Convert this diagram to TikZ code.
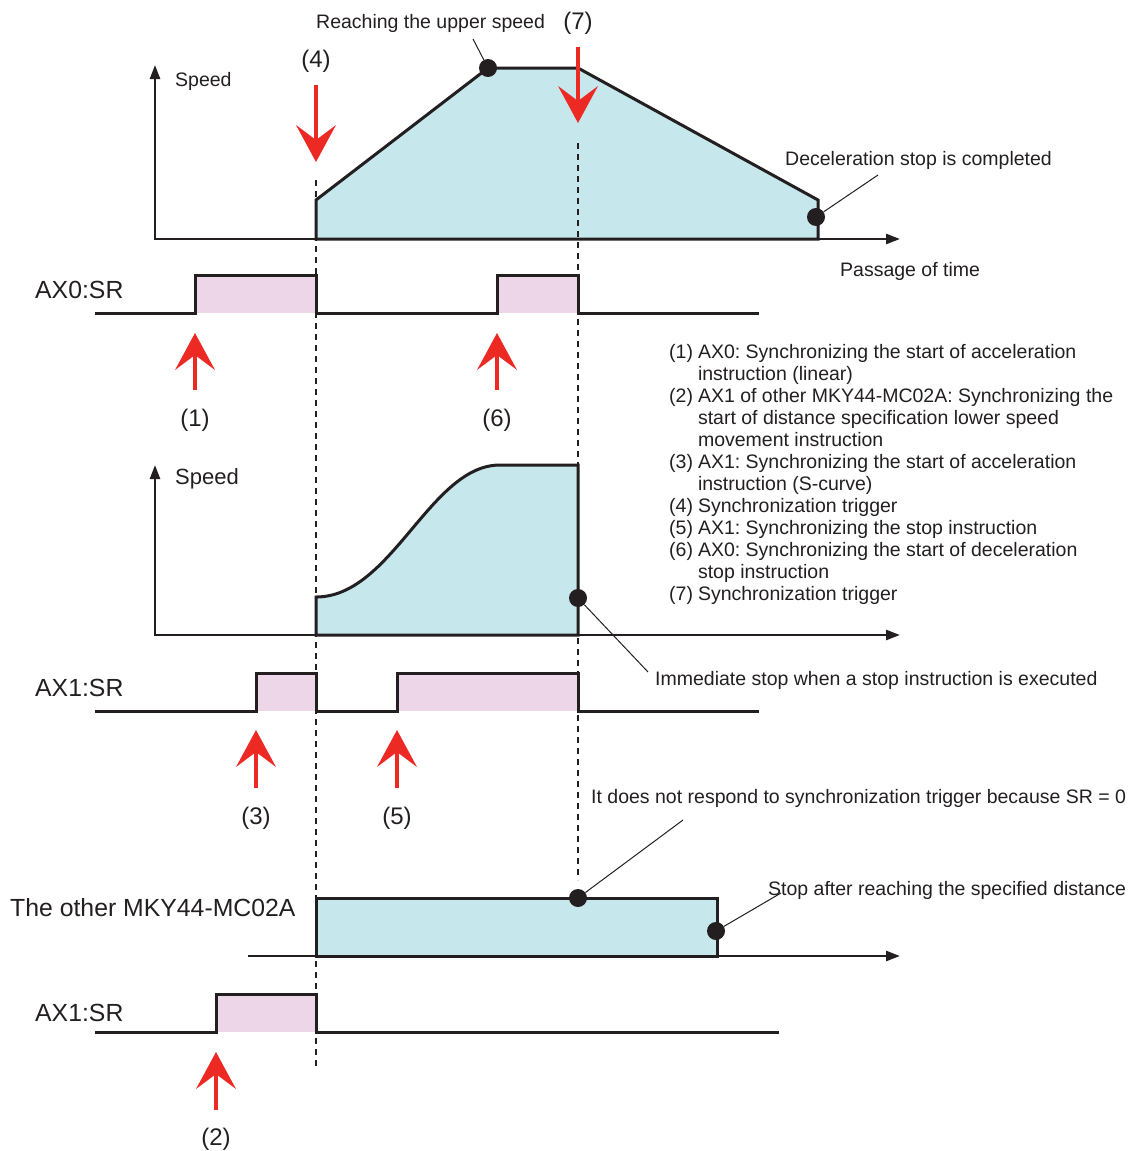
\documentclass[tikz,border=0pt]{standalone}
\usepackage{fontspec}
\setmainfont{Liberation Sans}
\usetikzlibrary{arrows.meta}
\definecolor{fillblue}{RGB}{198,231,236}
\definecolor{fillpink}{RGB}{236,214,231}
\definecolor{redarr}{RGB}{237,41,36}
\definecolor{ink}{RGB}{35,31,32}
\frenchspacing
\begin{document}
\begin{tikzpicture}[x=1pt,y=-1pt,
  ann/.style={anchor=west,inner sep=0pt,text=ink,font=\fontsize{19.5}{22}\selectfont},
  siglabel/.style={anchor=west,inner sep=0pt,text=ink,font=\fontsize{24.8}{28}\selectfont},
  speedlabel/.style={anchor=west,inner sep=0pt,text=ink},
  numlabel/.style={inner sep=0pt,text=ink,font=\fontsize{24}{28}\selectfont},
  axis/.style={line width=2.5pt,draw=ink,-{Triangle[length=14pt,width=10pt]}},
  profile/.style={line width=3pt,draw=ink,fill=fillblue,line join=miter},
  pulse/.style={line width=3pt,draw=ink},
  pulsefill/.style={fill=fillpink},
  syncline/.style={line width=1.2pt,draw=ink,dash pattern=on 6pt off 5pt},
  redarrow/.style={line width=4.5pt,draw=redarr,-{Stealth[length=37pt,width=40pt,inset=15pt,line width=0pt]}},
  dot/.style={circle,fill=ink,minimum size=18pt,inner sep=0pt},
  leader/.style={line width=1pt,draw=ink}]
\useasboundingbox (0,0) rectangle (1131,1151);

% ---------- top speed graph (AX0) ----------
\draw[profile] (316,239) -- (316,200) -- (488,68) -- (578,68) -- (818,200) -- (818,239) -- cycle;
\draw[axis] (155,240) -- (155,65);
\draw[axis] (155,239) -- (900,239);

% ---------- middle speed graph (AX1) ----------
\draw[profile] (316,635) -- (316,597) .. controls (392,597) and (430,465) .. (500,465) -- (578,465) -- (578,635) -- cycle;
\draw[axis] (155,636) -- (155,465);
\draw[axis] (155,635) -- (900,635);

% ---------- other MKY44-MC02A ----------
\draw[profile] (316,956) rectangle (717,898);
\draw[axis] (248,956) -- (900,956);

% ---------- SR pulses ----------
\fill[pulsefill] (195,313) rectangle (316,275);
\fill[pulsefill] (497,313) rectangle (578,275);
\draw[pulse] (95,313) -| (195,275) -| (316,313) -| (497,275) -| (578,313) -- (759,313);

\fill[pulsefill] (256,711) rectangle (316,673);
\fill[pulsefill] (397,711) rectangle (578,673);
\draw[pulse] (95,711) -| (256,673) -| (316,711) -| (397,673) -| (578,711) -- (759,711);

\fill[pulsefill] (216,1032) rectangle (316,994);
\draw[pulse] (95,1032) -| (216,994) -| (316,1032) -- (779,1032);

% ---------- synchronization dashed lines ----------
\draw[syncline] (316,180) -- (316,1070);
\draw[syncline] (578,143) -- (578,880);

% ---------- red arrows ----------
\draw[redarrow] (316,85) -- (316,162);
\draw[redarrow] (578,47) -- (578,123);
\draw[redarrow] (195,390) -- (195,333);
\draw[redarrow] (497,390) -- (497,333);
\draw[redarrow] (256,788) -- (256,730);
\draw[redarrow] (397,788) -- (397,730);
\draw[redarrow] (216,1110) -- (216,1052);

% ---------- dots ----------
\node[dot] (dotpeak) at (488,68) {};
\node[dot] (dotdec) at (816,217) {};
\node[dot] (dotimm) at (578,598) {};
\node[dot] (dotnoresp) at (578,898) {};
\node[dot] (dotdist) at (716,931) {};

% ---------- labels ----------
\node[ann] (reach) at (316,23) {Reaching the upper speed};
\node[numlabel] (n7) at (578,23) {(7)};
\node[numlabel] (n4) at (316,61) {(4)};
\node[speedlabel,font=\fontsize{19.5}{22}\selectfont] (speed1) at (175,81) {Speed};
\node[ann] (decel) at (785,160) {Deceleration stop is completed};
\node[ann] (passage) at (840,271) {Passage of time};
\node[siglabel] (ax0sr) at (35,290) {AX0:SR};
\node[numlabel] (n1) at (195,420) {(1)};
\node[numlabel] (n6) at (497,420) {(6)};
\node[speedlabel,font=\fontsize{22}{24}\selectfont] (speed2) at (175,479) {Speed};
\node[ann] (immed) at (655,680) {Immediate stop when a stop instruction is executed};
\node[siglabel] (ax1sr) at (35,688) {AX1:SR};
\node[numlabel] (n3) at (256,818) {(3)};
\node[numlabel] (n5) at (397,818) {(5)};
\node[ann] (noresp) at (591,798) {It does not respond to synchronization trigger because SR = 0};
\node[ann] (stopdist) at (768,890) {Stop after reaching the specified distance};
\node[siglabel] (other) at (10,908) {The other MKY44-MC02A};
\node[siglabel] (ax1srb) at (35,1013) {AX1:SR};
\node[numlabel] (n2) at (216,1139) {(2)};

% ---------- legend ----------
\node[anchor=north west,inner sep=0pt,text=ink,font=\fontsize{19.5}{22}\selectfont] (legend) at (669,343) {%
\begin{tabular}{@{}l@{\hspace{5pt}}l@{}}
(1) & AX0: Synchronizing the start of acceleration\\
    & instruction (linear)\\
(2) & AX1 of other MKY44-MC02A: Synchronizing the\\
    & start of distance specification lower speed\\
    & movement instruction\\
(3) & AX1: Synchronizing the start of acceleration\\
    & instruction (S-curve)\\
(4) & Synchronization trigger\\
(5) & AX1: Synchronizing the stop instruction\\
(6) & AX0: Synchronizing the start of deceleration\\
    & stop instruction\\
(7) & Synchronization trigger
\end{tabular}};

% ---------- leader lines ----------
\coordinate (reachend) at (473,39);
\coordinate (decelend) at (878,175);
\coordinate (immedend) at (648,672);
\coordinate (norespend) at (683,820);
\coordinate (stopdistend) at (781,893);
\draw[leader] (reachend) -- (dotpeak);
\draw[leader] (decelend) -- (dotdec);
\draw[leader] (immedend) -- (dotimm);
\draw[leader] (norespend) -- (dotnoresp);
\draw[leader] (stopdistend) -- (dotdist);
\end{tikzpicture}
\end{document}
